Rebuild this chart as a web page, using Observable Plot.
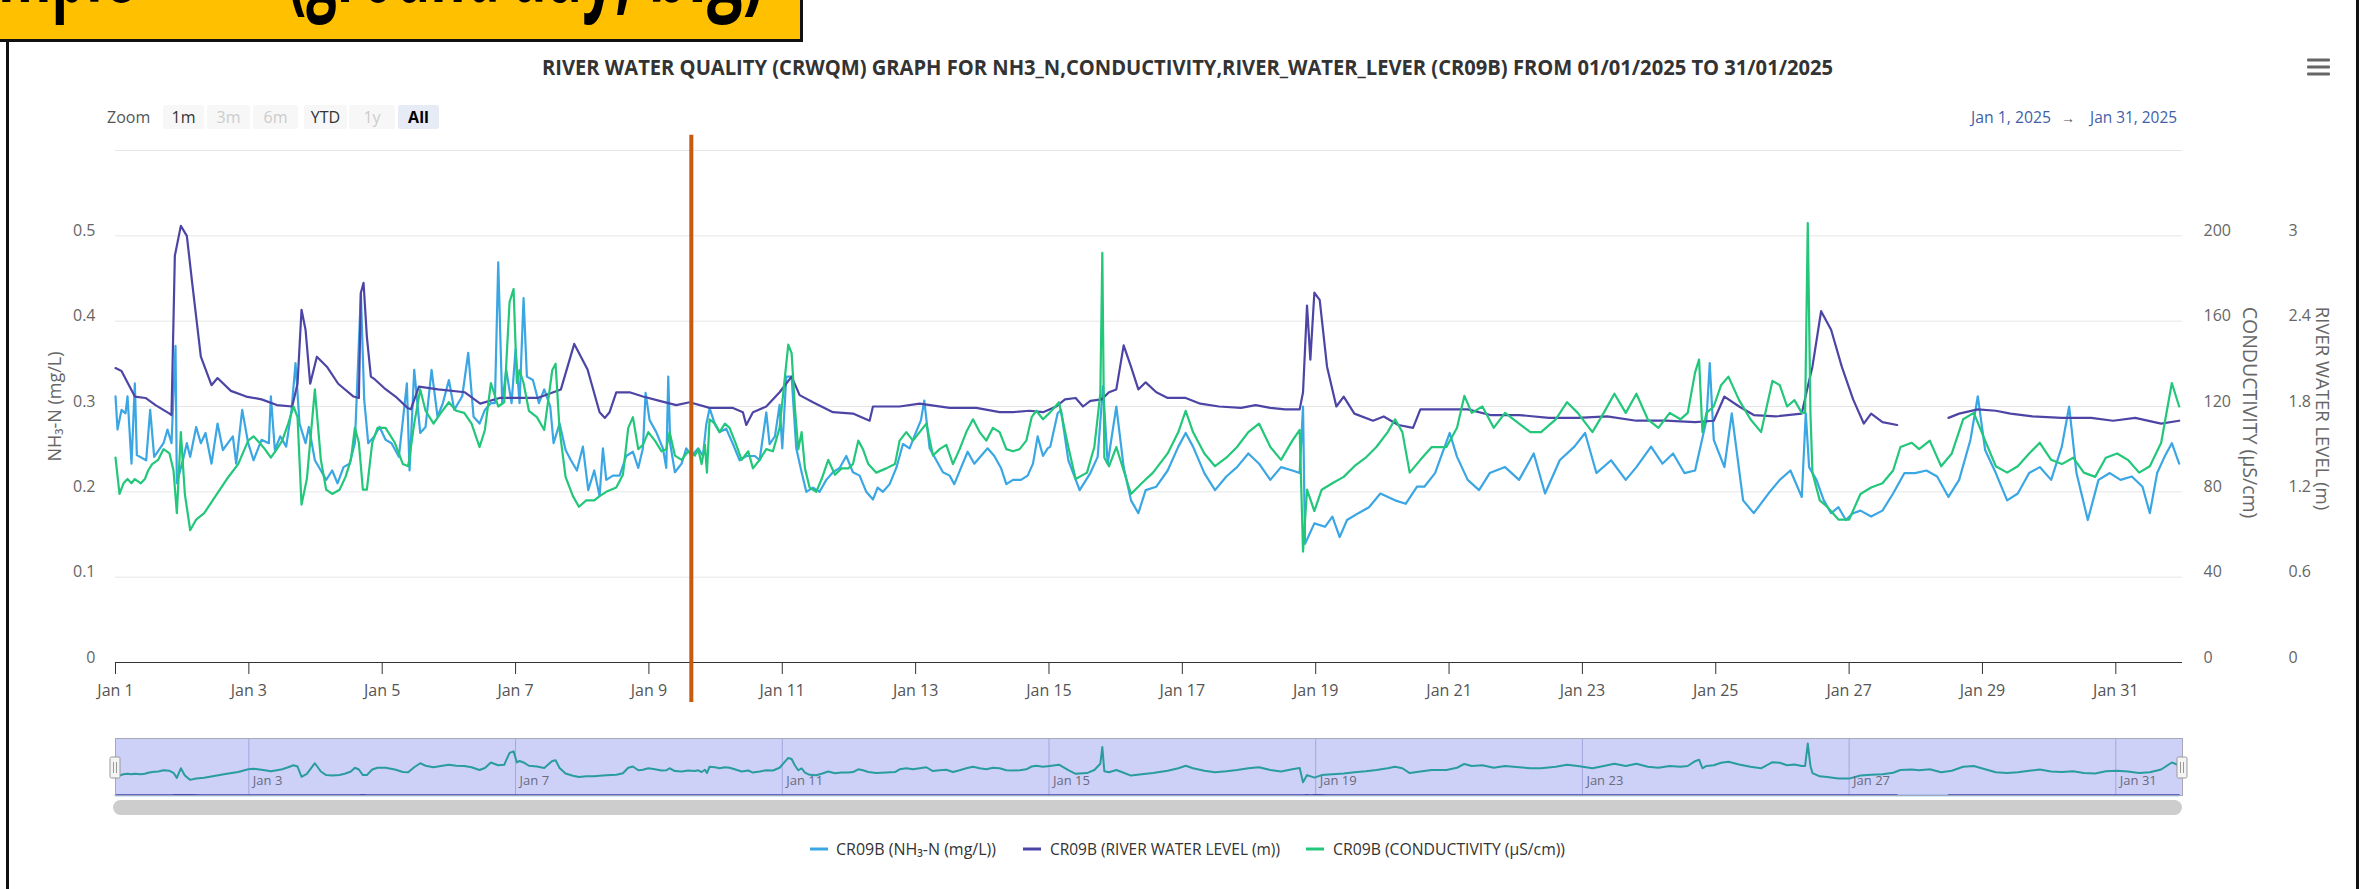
<!DOCTYPE html>
<html><head><meta charset="utf-8">
<script src="https://cdn.jsdelivr.net/npm/d3@7"></script>
<script src="https://cdn.jsdelivr.net/npm/@observablehq/plot@0.6"></script>
<style>
html,body{margin:0;padding:0;background:#fff;}
#root{position:relative;width:2371px;height:889px;overflow:hidden;background:#fff;font-family:"Open Sans",sans-serif;}
#root > svg{position:absolute;left:0;}
</style></head><body><div id="root"></div>
<script>
// ---------- DATA (day offset from 2025-01-01 00:00, value) ----------
const nh3 = [[0,0.312],[0.03,0.273],[0.09,0.296],[0.15,0.292],[0.18,0.312],[0.24,0.233],[0.29,0.327],[0.32,0.243],[0.46,0.237],[0.52,0.296],[0.58,0.241],[0.72,0.257],[0.78,0.273],[0.84,0.257],[0.9,0.371],[0.92,0.21],[1.01,0.237],[1.07,0.257],[1.12,0.241],[1.21,0.276],[1.28,0.257],[1.35,0.269],[1.44,0.233],[1.53,0.28],[1.61,0.249],[1.76,0.265],[1.81,0.233],[1.9,0.296],[1.99,0.257],[2.07,0.237],[2.19,0.261],[2.3,0.257],[2.33,0.312],[2.39,0.249],[2.47,0.265],[2.56,0.253],[2.64,0.296],[2.7,0.351],[2.76,0.28],[2.85,0.257],[2.9,0.276],[2.99,0.237],[3.08,0.225],[3.16,0.214],[3.25,0.225],[3.33,0.21],[3.42,0.229],[3.51,0.233],[3.59,0.257],[3.68,0.433],[3.73,0.308],[3.79,0.257],[3.88,0.265],[3.96,0.276],[4.05,0.261],[4.14,0.257],[4.25,0.241],[4.37,0.327],[4.41,0.225],[4.48,0.343],[4.57,0.269],[4.65,0.276],[4.74,0.343],[4.83,0.288],[4.91,0.304],[5.0,0.331],[5.08,0.296],[5.2,0.312],[5.29,0.363],[5.37,0.288],[5.46,0.28],[5.54,0.296],[5.63,0.304],[5.69,0.304],[5.74,0.469],[5.8,0.304],[5.86,0.343],[5.94,0.304],[6.0,0.367],[6.06,0.304],[6.12,0.427],[6.17,0.335],[6.26,0.331],[6.35,0.304],[6.43,0.32],[6.52,0.3],[6.57,0.257],[6.66,0.28],[6.75,0.249],[6.83,0.237],[6.92,0.225],[7.01,0.253],[7.09,0.202],[7.18,0.225],[7.26,0.195],[7.31,0.251],[7.36,0.214],[7.46,0.219],[7.56,0.219],[7.66,0.242],[7.76,0.247],[7.84,0.228],[7.91,0.251],[7.95,0.316],[8.01,0.284],[8.11,0.27],[8.21,0.251],[8.26,0.228],[8.29,0.335],[8.32,0.256],[8.39,0.223],[8.49,0.233],[8.56,0.251],[8.64,0.242],[8.74,0.251],[8.81,0.242],[8.86,0.279],[8.91,0.298],[8.99,0.279],[9.06,0.27],[9.16,0.274],[9.26,0.256],[9.36,0.237],[9.46,0.242],[9.59,0.242],[9.66,0.237],[9.71,0.265],[9.76,0.293],[9.81,0.256],[9.89,0.265],[9.96,0.302],[10.0,0.251],[10.06,0.335],[10.14,0.335],[10.21,0.251],[10.29,0.223],[10.36,0.2],[10.46,0.205],[10.56,0.2],[10.66,0.214],[10.76,0.223],[10.86,0.228],[10.96,0.242],[11.06,0.223],[11.16,0.219],[11.26,0.2],[11.36,0.191],[11.43,0.205],[11.51,0.2],[11.61,0.209],[11.71,0.228],[11.81,0.256],[11.91,0.251],[11.98,0.265],[12.08,0.284],[12.13,0.307],[12.21,0.251],[12.31,0.237],[12.41,0.223],[12.51,0.219],[12.58,0.209],[12.68,0.228],[12.78,0.247],[12.88,0.233],[12.98,0.242],[13.08,0.251],[13.18,0.242],[13.28,0.228],[13.36,0.209],[13.46,0.214],[13.58,0.214],[13.68,0.219],[13.76,0.233],[13.83,0.265],[13.91,0.242],[13.98,0.251],[14.02,0.253],[14.13,0.292],[14.18,0.296],[14.29,0.237],[14.46,0.202],[14.62,0.222],[14.73,0.241],[14.81,0.324],[14.88,0.233],[15.01,0.3],[15.12,0.229],[15.23,0.19],[15.34,0.175],[15.45,0.202],[15.61,0.206],[15.78,0.225],[15.94,0.253],[16.05,0.269],[16.16,0.253],[16.33,0.222],[16.49,0.202],[16.66,0.218],[16.82,0.229],[16.99,0.245],[17.15,0.233],[17.32,0.214],[17.48,0.229],[17.65,0.225],[17.76,0.222],[17.81,0.3],[17.84,0.139],[17.98,0.163],[18.14,0.159],[18.25,0.171],[18.36,0.147],[18.47,0.167],[18.64,0.175],[18.8,0.182],[18.97,0.198],[19.19,0.19],[19.35,0.186],[19.52,0.206],[19.63,0.206],[19.79,0.222],[20.01,0.269],[20.12,0.241],[20.28,0.214],[20.45,0.202],[20.61,0.222],[20.84,0.229],[21.05,0.214],[21.27,0.245],[21.44,0.198],[21.66,0.237],[21.88,0.253],[22.04,0.269],[22.21,0.222],[22.43,0.237],[22.65,0.214],[22.81,0.229],[23.03,0.253],[23.2,0.233],[23.36,0.245],[23.53,0.222],[23.69,0.225],[23.86,0.284],[23.91,0.351],[23.97,0.261],[24.13,0.229],[24.24,0.292],[24.41,0.19],[24.57,0.175],[24.79,0.198],[24.96,0.214],[25.12,0.225],[25.29,0.194],[25.35,0.292],[25.4,0.229],[25.51,0.214],[25.62,0.19],[25.73,0.175],[25.84,0.182],[25.95,0.167],[26.06,0.175],[26.17,0.178],[26.33,0.171],[26.5,0.178],[26.66,0.198],[26.83,0.222],[26.99,0.222],[27.16,0.225],[27.32,0.218],[27.49,0.194],[27.65,0.214],[27.82,0.261],[27.93,0.312],[28.04,0.249],[28.2,0.222],[28.37,0.19],[28.53,0.198],[28.7,0.222],[28.86,0.229],[29.03,0.214],[29.19,0.253],[29.3,0.3],[29.41,0.222],[29.58,0.167],[29.74,0.214],[29.91,0.222],[30.07,0.214],[30.24,0.218],[30.4,0.206],[30.51,0.175],[30.62,0.222],[30.73,0.241],[30.84,0.257],[30.95,0.233]];

const level = [[0,2.07],[0.09,2.05],[0.29,1.87],[0.45,1.86],[0.6,1.81],[0.81,1.75],[0.84,1.74],[0.89,2.86],[0.98,3.07],[1.07,3.0],[1.15,2.67],[1.28,2.15],[1.44,1.95],[1.53,2.0],[1.73,1.91],[1.96,1.87],[2.19,1.85],[2.42,1.81],[2.65,1.8],[2.73,1.96],[2.79,2.48],[2.85,2.34],[2.92,1.96],[3.02,2.15],[3.17,2.08],[3.34,1.96],[3.57,1.87],[3.65,1.86],[3.68,2.6],[3.72,2.67],[3.77,2.29],[3.83,2.01],[3.89,1.99],[4.03,1.93],[4.2,1.87],[4.38,1.79],[4.43,1.78],[4.55,1.94],[4.84,1.92],[5.24,1.9],[5.47,1.82],[5.76,1.86],[6.1,1.86],[6.33,1.86],[6.68,1.92],[6.88,2.24],[7.08,2.06],[7.26,1.76],[7.34,1.72],[7.41,1.76],[7.51,1.9],[7.71,1.9],[7.91,1.87],[8.16,1.84],[8.41,1.81],[8.61,1.83],[8.91,1.79],[9.26,1.79],[9.41,1.76],[9.46,1.67],[9.56,1.76],[9.76,1.8],[9.96,1.9],[10.14,2.01],[10.26,1.88],[10.46,1.83],[10.76,1.76],[11.06,1.75],[11.31,1.7],[11.36,1.8],[11.76,1.8],[12.06,1.82],[12.51,1.79],[12.91,1.79],[13.26,1.76],[13.46,1.76],[13.71,1.77],[13.91,1.76],[14.11,1.8],[14.24,1.85],[14.4,1.86],[14.51,1.8],[14.62,1.84],[14.79,1.85],[14.9,1.9],[15.01,1.92],[15.12,2.23],[15.23,2.08],[15.34,1.92],[15.45,1.97],[15.61,1.9],[15.78,1.86],[16.05,1.86],[16.27,1.82],[16.55,1.8],[16.88,1.79],[17.1,1.81],[17.32,1.79],[17.54,1.78],[17.76,1.78],[17.81,1.9],[17.87,2.51],[17.92,2.13],[17.98,2.6],[18.06,2.55],[18.17,2.08],[18.31,1.8],[18.42,1.87],[18.58,1.75],[18.86,1.7],[19.02,1.73],[19.24,1.67],[19.46,1.65],[19.57,1.78],[19.85,1.78],[20.28,1.78],[20.62,1.74],[21.05,1.74],[21.5,1.72],[21.93,1.72],[22.37,1.73],[22.81,1.7],[23.25,1.7],[23.69,1.69],[23.97,1.7],[24.13,1.87],[24.35,1.8],[24.57,1.74],[24.9,1.73],[25.29,1.75],[25.38,1.94],[25.45,2.08],[25.58,2.47],[25.73,2.34],[25.89,2.08],[26.06,1.85],[26.22,1.68],[26.33,1.75],[26.5,1.69],[26.72,1.67],[27.1,null],[27.49,1.72],[27.65,1.75],[27.93,1.78],[28.2,1.77],[28.42,1.75],[28.75,1.73],[29.19,1.72],[29.63,1.72],[29.96,1.7],[30.29,1.72],[30.68,1.68],[30.95,1.7]];

const cond = [[0,96],[0.06,79],[0.12,84],[0.18,86],[0.24,84],[0.29,86],[0.38,84],[0.44,86],[0.49,90],[0.55,93],[0.64,95],[0.72,100],[0.81,98],[0.87,90],[0.92,70],[0.98,108],[1.04,79],[1.12,62],[1.21,67],[1.33,70],[1.5,78],[1.67,86],[1.84,93],[1.99,104],[2.07,106],[2.16,103],[2.24,100],[2.33,96],[2.42,100],[2.5,104],[2.59,112],[2.67,120],[2.73,115],[2.79,74],[2.87,86],[2.99,128],[3.08,95],[3.16,81],[3.25,79],[3.36,81],[3.45,87],[3.53,95],[3.59,110],[3.65,103],[3.71,81],[3.77,81],[3.85,103],[3.93,110],[4.05,110],[4.19,103],[4.31,93],[4.39,92],[4.48,112],[4.57,128],[4.65,118],[4.77,112],[4.88,117],[5.0,122],[5.11,118],[5.23,117],[5.34,112],[5.46,101],[5.54,109],[5.63,131],[5.74,120],[5.83,122],[5.91,169],[5.97,175],[6.02,131],[6.06,137],[6.12,131],[6.2,118],[6.32,115],[6.43,109],[6.55,137],[6.6,140],[6.66,109],[6.75,87],[6.86,78],[6.95,73],[7.06,76],[7.18,76],[7.26,78],[7.36,80],[7.51,82],[7.61,88],[7.69,110],[7.76,115],[7.84,100],[7.91,102],[7.99,108],[8.09,104],[8.19,99],[8.26,100],[8.31,108],[8.39,97],[8.49,95],[8.59,99],[8.69,97],[8.74,100],[8.79,93],[8.84,102],[8.87,89],[8.91,114],[8.99,112],[9.06,108],[9.14,112],[9.21,110],[9.31,102],[9.39,95],[9.49,99],[9.56,91],[9.66,95],[9.76,100],[9.86,99],[9.96,110],[10.04,134],[10.09,149],[10.14,145],[10.19,119],[10.24,100],[10.29,108],[10.34,91],[10.41,82],[10.51,80],[10.59,86],[10.69,95],[10.79,88],[10.89,91],[10.99,91],[11.06,93],[11.14,104],[11.21,100],[11.29,93],[11.41,89],[11.56,91],[11.69,93],[11.76,104],[11.86,108],[11.96,104],[12.06,108],[12.16,112],[12.26,97],[12.36,100],[12.46,102],[12.56,93],[12.66,100],[12.76,108],[12.86,114],[12.96,108],[13.06,104],[13.16,110],[13.26,108],[13.36,100],[13.46,99],[13.56,100],[13.66,104],[13.74,115],[13.81,118],[13.91,114],[14.01,117],[14.15,122],[14.29,101],[14.4,86],[14.57,89],[14.68,101],[14.77,126],[14.8,192],[14.83,96],[14.9,92],[15.01,101],[15.12,90],[15.23,79],[15.39,84],[15.56,89],[15.78,98],[15.94,108],[16.05,118],[16.16,108],[16.33,98],[16.49,92],[16.66,96],[16.82,101],[16.99,108],[17.15,112],[17.32,101],[17.48,95],[17.65,104],[17.76,109],[17.81,52],[17.87,81],[17.98,71],[18.09,81],[18.25,84],[18.42,87],[18.58,92],[18.75,96],[18.91,101],[19.08,108],[19.19,114],[19.3,108],[19.41,89],[19.57,95],[19.74,101],[19.96,101],[20.12,110],[20.23,125],[20.34,117],[20.5,120],[20.67,110],[20.84,117],[21.05,112],[21.22,108],[21.38,108],[21.6,114],[21.77,122],[21.93,117],[22.15,108],[22.32,117],[22.48,126],[22.65,117],[22.81,126],[22.98,114],[23.14,110],[23.31,117],[23.47,114],[23.58,117],[23.69,136],[23.75,142],[23.8,108],[23.86,117],[23.97,120],[24.08,130],[24.19,134],[24.35,123],[24.52,114],[24.68,108],[24.85,132],[24.96,130],[25.07,120],[25.18,123],[25.29,117],[25.34,117],[25.38,206],[25.42,117],[25.45,89],[25.56,76],[25.67,73],[25.84,67],[26.0,67],[26.17,79],[26.33,82],[26.5,84],[26.66,90],[26.77,101],[26.94,103],[27.05,100],[27.21,104],[27.38,92],[27.54,98],[27.71,114],[27.87,117],[28.04,104],[28.2,92],[28.37,89],[28.53,92],[28.7,98],[28.86,103],[29.03,95],[29.19,93],[29.36,96],[29.52,89],[29.69,87],[29.85,96],[30.02,98],[30.18,95],[30.35,89],[30.51,92],[30.68,103],[30.84,131],[30.95,120]];

const nh3Ticks = [0, 0.1, 0.2, 0.3, 0.4, 0.5];
const condTicks = [0, 40, 80, 120, 160, 200];
const levelTicks = [0, 0.6, 1.2, 1.8, 2.4, 3];
const gridTicks = [0.1, 0.2, 0.3, 0.4, 0.5, 0.6];
const markerDay = 8.636;            // vertical annotation line
const markerSpan = [-0.047, 0.618]; // its extent in NH3 units
const navTickDays = [2, 6, 10, 14, 18, 22, 26, 30];
const seriesNames = ["CR09B (NH\u2083-N (mg/L))", "CR09B (RIVER WATER LEVEL (m))", "CR09B (CONDUCTIVITY (\u00b5S/cm))"];
const axisTitles = ["NH\u2083-N (mg/L)", "CONDUCTIVITY (\u00b5S/cm)", "RIVER WATER LEVEL (m)"];
const colors = ["#3aa6e4", "#4d45a6", "#22c77a"];
const titleText = "RIVER WATER QUALITY (CRWQM) GRAPH FOR NH3_N,CONDUCTIVITY,RIVER_WATER_LEVER (CR09B) FROM 01/01/2025 TO 31/01/2025";
const bannerWords = ["Sample", "(ground", "day,", "big)"];

// ---------- helpers ----------
const t0 = Date.UTC(2025, 0, 1), t1 = Date.UTC(2025, 1, 1);
const toDate = d => new Date(t0 + d * 864e5);
const condK = condTicks[5] / nh3Ticks[5];
const levelK = levelTicks[5] / nh3Ticks[5];
const rows = (arr, k) => arr.map(([d, v]) => ({t: toDate(d), v, y: v == null ? NaN : v / k}));
const nh3Rows = rows(nh3, 1), levelRows = rows(level, levelK), condRows = rows(cond, condK);
const xTicks = d3.utcDay.every(2).range(new Date(t0), new Date(t1));
const fmt = d3.utcFormat("%b %-d");
const FONT = "'Open Sans', sans-serif";
const root = document.getElementById("root");

// ---------- main chart ----------
const main = Plot.plot({
  width: 2371, height: 720,
  marginTop: 150, marginBottom: 58, marginLeft: 115, marginRight: 189,
  x: {type: "utc", domain: [new Date(t0), new Date(t1)], label: null, axis: null},
  y: {domain: [0, 0.6], label: null, axis: null},
  style: {background: "transparent", fontFamily: FONT, fontSize: "16px", overflow: "visible"},
  marks: [
    Plot.gridY(gridTicks, {stroke: "#e6e6e6", strokeOpacity: 1}),
    Plot.ruleY([0], {stroke: "#333"}),
    Plot.axisX(xTicks, {tickSize: 12, tickPadding: 10, tickFormat: fmt, stroke: "#333", fill: "#555", fontSize: 16, label: null}),
    Plot.text(nh3Ticks, {y: d => d, frameAnchor: "left", dx: -20, dy: -5, textAnchor: "end", text: d => String(d), fill: "#666", fontSize: 16}),
    Plot.text(condTicks, {y: d => d / condK, frameAnchor: "right", dx: 21, dy: -5, textAnchor: "start", text: d => String(d), fill: "#666", fontSize: 16}),
    Plot.text(levelTicks, {y: d => d / levelK, frameAnchor: "right", dx: 106, dy: -5, textAnchor: "start", text: d => String(d), fill: "#666", fontSize: 16}),
    Plot.text([axisTitles[0]], {frameAnchor: "left", dx: -60, rotate: -90, textAnchor: "middle", fill: "#666", fontSize: 18}),
    Plot.text([axisTitles[1]], {frameAnchor: "right", dx: 67, dy: 6, rotate: 90, textAnchor: "middle", fill: "#666", fontSize: 19.5}),
    Plot.text([axisTitles[2]], {frameAnchor: "right", dx: 139, dy: 2, rotate: 90, textAnchor: "middle", fill: "#666", fontSize: 18.5}),
    Plot.line(nh3Rows, {x: "t", y: "y", stroke: colors[0], strokeWidth: 2.2}),
    Plot.line(levelRows, {x: "t", y: "y", stroke: colors[1], strokeWidth: 2.2}),
    Plot.line(condRows, {x: "t", y: "y", stroke: colors[2], strokeWidth: 2.2}),
    Plot.ruleX([{t: toDate(markerDay), y1: markerSpan[0], y2: markerSpan[1]}], {x: "t", y1: "y1", y2: "y2", stroke: "#c55a11", strokeWidth: 4})
  ]
});
main.style.top = "0px";
root.appendChild(main);

// ---------- navigator ----------
const navRows = arr => arr.map(([d, v]) => ({t: toDate(d), v: v == null ? NaN : v}));
const navTicks = navTickDays.map(toDate);
const nav = Plot.plot({
  width: 2371, height: 100,
  marginTop: 8, marginBottom: 35, marginLeft: 115, marginRight: 189,
  x: {type: "utc", domain: [new Date(t0), new Date(t1)], axis: null},
  y: {domain: [0, 226], axis: null},
  style: {background: "transparent", fontFamily: FONT, overflow: "visible"},
  marks: [
    Plot.frame({fill: "#ffffff"}),
    Plot.ruleX(navTicks, {stroke: "#c4c8dc", strokeWidth: 1}),
    Plot.line(navRows(nh3), {x: "t", y: "v", stroke: colors[0], strokeWidth: 1.5}),
    Plot.line(navRows(cond), {x: "t", y: "v", stroke: "#1fb88a", strokeWidth: 2}),
    Plot.line(navRows(level), {x: "t", y: "v", stroke: colors[1], strokeWidth: 1.5}),
    Plot.frame({fill: "rgb(70,80,225)", fillOpacity: 0.27}),
    Plot.text(navTicks, {x: d => d, frameAnchor: "bottom", dx: 4, dy: -11, textAnchor: "start", text: fmt, fill: "#6a6a80", fontSize: 13}),
    Plot.frame({stroke: "#a8a8b8", strokeWidth: 1})
  ]
});
nav.style.top = "730px";
root.appendChild(nav);

// ---------- overlay (page furniture) ----------
const svg = d3.create("svg").attr("width", 2371).attr("height", 889)
  .style("position", "absolute").style("left", "0px").style("top", "0px").style("font-family", FONT);

// frame of the screenshot
svg.append("rect").attr("x", 6).attr("y", 0).attr("width", 3).attr("height", 889).attr("fill", "#111");
svg.append("rect").attr("x", 2356).attr("y", 0).attr("width", 3).attr("height", 889).attr("fill", "#111");

// yellow banner (its heading is cropped at the top edge)
const bannerW = 800;
const defs = svg.append("defs");
defs.append("clipPath").attr("id", "bclip").append("rect").attr("x", 0).attr("y", 0).attr("width", bannerW).attr("height", 39);
svg.append("rect").attr("x", 0).attr("y", 0).attr("width", bannerW).attr("height", 39).attr("fill", "#ffc000");
const bg = svg.append("g").attr("clip-path", "url(#bclip)");
[[-65, 200], [288, 212], [510, 122], [648, 116]].forEach(([x, w], i) => {
  bg.append("text").attr("x", x).attr("y", 2).attr("dominant-baseline", "alphabetic")
    .attr("font-size", 96).attr("font-weight", 700).attr("fill", "#000")
    .attr("textLength", w).attr("lengthAdjust", "spacingAndGlyphs").text(bannerWords[i]);
});
svg.append("rect").attr("x", 0).attr("y", 39).attr("width", bannerW + 3).attr("height", 3).attr("fill", "#111");
svg.append("rect").attr("x", bannerW).attr("y", 0).attr("width", 3).attr("height", 42).attr("fill", "#111");

// title
svg.append("text").attr("x", 542).attr("y", 75).attr("font-size", 21).attr("font-weight", 700)
  .attr("fill", "#333").attr("textLength", 1291).attr("lengthAdjust", "spacingAndGlyphs").text(titleText);

// hamburger
[60, 67, 74].forEach(y => svg.append("rect").attr("x", 2307).attr("y", y - 1.5).attr("width", 23).attr("height", 3).attr("rx", 1).attr("fill", "#666"));

// range selector
const rowY = 117;
svg.append("text").attr("x", 107).attr("y", rowY).attr("dominant-baseline", "central").attr("font-size", 16).attr("fill", "#555").text("Zoom");
const buttons = [["1m", 163, 204, 1], ["3m", 207, 250, 0], ["6m", 253, 298, 0], ["YTD", 304, 347, 1], ["1y", 349, 395, 0], ["All", 398, 439, 2]];
buttons.forEach(([lab, a, b, st]) => {
  svg.append("rect").attr("x", a).attr("y", rowY - 12).attr("width", b - a).attr("height", 24).attr("rx", 2)
    .attr("fill", st === 2 ? "#e6ebf5" : "#f7f7f7");
  svg.append("text").attr("x", (a + b) / 2).attr("y", rowY).attr("text-anchor", "middle").attr("dominant-baseline", "central")
    .attr("font-size", 16).attr("font-weight", st === 2 ? 700 : 400)
    .attr("fill", st === 0 ? "#cccccc" : st === 2 ? "#000" : "#333").text(lab);
});
svg.append("text").attr("x", 1971).attr("y", rowY).attr("dominant-baseline", "central").attr("font-size", 16).attr("fill", "#3f5fa8")
  .attr("textLength", 80).attr("lengthAdjust", "spacingAndGlyphs").text("Jan 1, 2025");
svg.append("text").attr("x", 2068).attr("y", rowY).attr("dominant-baseline", "central").attr("text-anchor", "middle").attr("font-size", 14).attr("fill", "#555").text("\u2192");
svg.append("text").attr("x", 2090).attr("y", rowY).attr("dominant-baseline", "central").attr("font-size", 16).attr("fill", "#3f5fa8")
  .attr("textLength", 87).attr("lengthAdjust", "spacingAndGlyphs").text("Jan 31, 2025");

// navigator handles
[115, 2182].forEach(x => {
  svg.append("rect").attr("x", x - 5).attr("y", 757).attr("width", 10).attr("height", 21).attr("rx", 1.5)
    .attr("fill", "#f4f4f4").attr("stroke", "#999").attr("stroke-width", 1);
  [-1.5, 1.5].forEach(dx => svg.append("line").attr("x1", x + dx).attr("x2", x + dx).attr("y1", 762).attr("y2", 773).attr("stroke", "#999"));
});

// scrollbar
svg.append("rect").attr("x", 113).attr("y", 800).attr("width", 2069).attr("height", 15).attr("rx", 7.5).attr("fill", "#cdcdcd");

// legend
const legendItems = [[810, 836, 160], [1023, 1050, 230], [1306, 1333, 232]];
legendItems.forEach(([lx, tx, tl], i) => {
  svg.append("line").attr("x1", lx).attr("x2", lx + 18).attr("y1", 849).attr("y2", 849).attr("stroke", colors[i]).attr("stroke-width", 3);
  svg.append("text").attr("x", tx).attr("y", 849).attr("dominant-baseline", "central").attr("font-size", 16).attr("fill", "#333")
    .attr("textLength", tl).attr("lengthAdjust", "spacingAndGlyphs").text(seriesNames[i]);
});

root.appendChild(svg.node());
</script></body></html>
